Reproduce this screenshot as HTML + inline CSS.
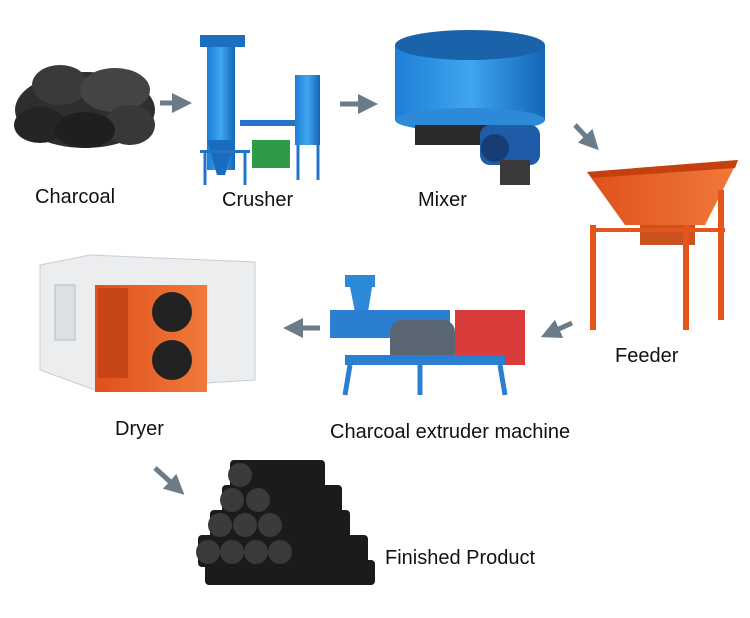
<!DOCTYPE html>
<html><head><meta charset="utf-8"><style>
html,body{margin:0;padding:0;background:#fff;width:750px;height:618px;overflow:hidden}
svg text{font-family:"Liberation Sans Narrow","Liberation Sans",sans-serif;font-size:20px;fill:#111}
</style></head><body>
<svg width="750" height="618" viewBox="0 0 750 618" xmlns="http://www.w3.org/2000/svg">
<defs>
<marker id="ah" markerWidth="4" markerHeight="4" refX="2" refY="2" orient="auto"><path d="M0,0 L4,2 L0,4 z" fill="#6b7b88"/></marker>
<linearGradient id="blue" x1="0" x2="1"><stop offset="0" stop-color="#1d7ed6"/><stop offset="0.5" stop-color="#3fa6f0"/><stop offset="1" stop-color="#1565b8"/></linearGradient>
<linearGradient id="org" x1="0" x2="1"><stop offset="0" stop-color="#e0501c"/><stop offset="1" stop-color="#f07a3a"/></linearGradient>
</defs>
<!-- charcoal pile -->
<g fill="#2e2e30">
<ellipse cx="85" cy="110" rx="70" ry="38"/>
<ellipse cx="60" cy="85" rx="28" ry="20" fill="#3a3a3c"/>
<ellipse cx="115" cy="90" rx="35" ry="22" fill="#444"/>
<ellipse cx="40" cy="125" rx="26" ry="18" fill="#252527"/>
<ellipse cx="130" cy="125" rx="25" ry="20" fill="#38383a"/>
<ellipse cx="85" cy="130" rx="30" ry="18" fill="#1f1f21"/>
</g>
<text x="35" y="203">Charcoal</text>
<!-- arrows -->
<g stroke="#6b7b88" stroke-width="5" fill="none" marker-end="url(#ah)">
<line x1="160" y1="103" x2="182" y2="103"/>
<line x1="340" y1="104" x2="368" y2="104"/>
<line x1="575" y1="125" x2="592" y2="143"/>
<line x1="572" y1="323" x2="550" y2="333"/>
<line x1="320" y1="328" x2="293" y2="328"/>
<line x1="155" y1="468" x2="177" y2="488"/>
</g>
<!-- crusher -->
<g>
<rect x="207" y="40" width="28" height="130" fill="url(#blue)"/>
<rect x="200" y="35" width="45" height="12" fill="#1b6fc0"/>
<polygon points="207,140 235,140 225,175 217,175" fill="#1a6cc0"/>
<rect x="200" y="150" width="50" height="3" fill="#2474c6"/>
<line x1="205" y1="150" x2="205" y2="185" stroke="#2474c6" stroke-width="3"/>
<line x1="245" y1="150" x2="245" y2="185" stroke="#2474c6" stroke-width="3"/>
<rect x="295" y="75" width="25" height="70" fill="url(#blue)"/>
<line x1="298" y1="145" x2="298" y2="180" stroke="#2474c6" stroke-width="3"/>
<line x1="318" y1="145" x2="318" y2="180" stroke="#2474c6" stroke-width="3"/>
<rect x="252" y="140" width="38" height="28" fill="#2f9a48"/>
<rect x="240" y="120" width="55" height="6" fill="#2474c6"/>
</g>
<text x="222" y="206">Crusher</text>
<!-- mixer -->
<g>
<rect x="395" y="45" width="150" height="75" fill="url(#blue)"/>
<ellipse cx="470" cy="45" rx="75" ry="15" fill="#1a62aa"/>
<ellipse cx="470" cy="120" rx="75" ry="12" fill="#2d8ad8"/>
<rect x="415" y="125" width="105" height="20" fill="#2a2a2a"/>
<rect x="480" y="125" width="60" height="40" rx="10" fill="#1f5ca8"/>
<circle cx="495" cy="148" r="14" fill="#173d75"/>
<rect x="500" y="160" width="30" height="25" fill="#3a3a3a"/>
</g>
<text x="418" y="206">Mixer</text>
<!-- feeder -->
<g>
<polygon points="587,172 738,160 705,225 625,225" fill="url(#org)"/>
<polygon points="587,172 738,160 735,168 592,178" fill="#c4400f"/>
<rect x="640" y="225" width="55" height="20" fill="#c9521e"/>
<rect x="590" y="225" width="6" height="105" fill="#e2561c"/>
<rect x="683" y="225" width="6" height="105" fill="#e2561c"/>
<rect x="718" y="190" width="6" height="130" fill="#e2561c"/>
<rect x="590" y="228" width="135" height="4" fill="#e2561c"/>
</g>
<text x="615" y="362">Feeder</text>
<!-- extruder -->
<g>
<rect x="345" y="275" width="30" height="12" fill="#2d8ad8"/>
<polygon points="350,287 372,287 368,312 355,312" fill="#2d8ad8"/>
<rect x="330" y="310" width="120" height="28" fill="#2b7fd0"/>
<rect x="390" y="320" width="65" height="45" rx="12" fill="#5a6672"/>
<rect x="455" y="310" width="70" height="55" fill="#d93a3a"/>
<rect x="345" y="355" width="160" height="10" fill="#2b7fd0"/>
<line x1="350" y1="365" x2="345" y2="395" stroke="#2b7fd0" stroke-width="5"/>
<line x1="500" y1="365" x2="505" y2="395" stroke="#2b7fd0" stroke-width="5"/>
<line x1="420" y1="365" x2="420" y2="395" stroke="#2b7fd0" stroke-width="5"/>
</g>
<text x="330" y="438">Charcoal extruder machine</text>
<!-- dryer -->
<g>
<polygon points="40,265 90,255 255,262 255,380 95,390 40,370" fill="#ecedef" stroke="#c9cdd2"/>
<rect x="55" y="285" width="20" height="55" fill="#dde0e3" stroke="#b8bcc0"/>
<rect x="95" y="285" width="112" height="107" fill="url(#org)"/>
<rect x="98" y="288" width="30" height="90" fill="#c74516"/>
<circle cx="172" cy="312" r="20" fill="#222"/>
<circle cx="172" cy="360" r="20" fill="#222"/>
</g>
<text x="115" y="435">Dryer</text>
<!-- finished product -->
<g fill="#1b1b1c">
<rect x="230" y="460" width="95" height="30" rx="4"/>
<rect x="222" y="485" width="120" height="30" rx="4"/>
<rect x="210" y="510" width="140" height="30" rx="4"/>
<rect x="198" y="535" width="170" height="32" rx="4"/>
<rect x="205" y="560" width="170" height="25" rx="4"/>
</g>
<g fill="#3b3b3d">
<circle cx="240" cy="475" r="12"/>
<circle cx="232" cy="500" r="12"/><circle cx="258" cy="500" r="12"/>
<circle cx="220" cy="525" r="12"/><circle cx="245" cy="525" r="12"/><circle cx="270" cy="525" r="12"/>
<circle cx="208" cy="552" r="12"/><circle cx="232" cy="552" r="12"/><circle cx="256" cy="552" r="12"/><circle cx="280" cy="552" r="12"/>
</g>
<text x="385" y="564">Finished Product</text>
</svg>
</body></html>
